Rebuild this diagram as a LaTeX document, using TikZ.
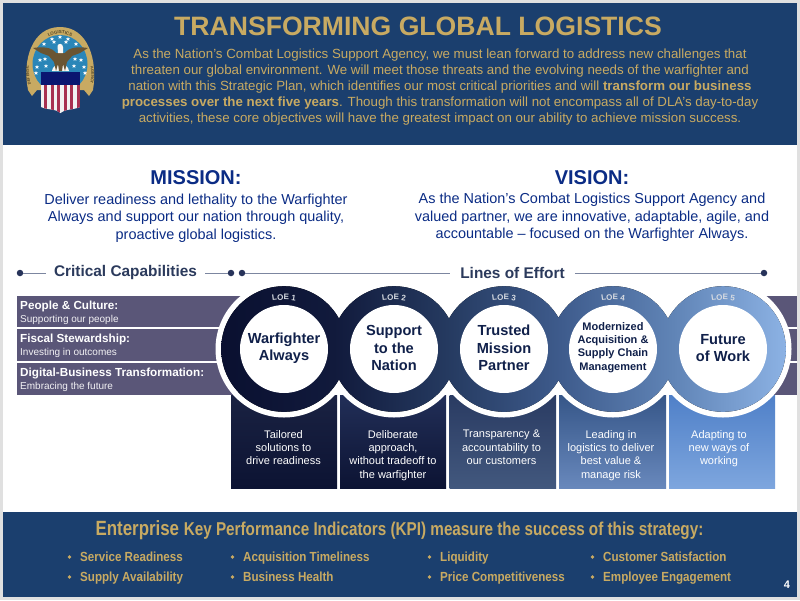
\documentclass[tikz,border=0pt]{standalone}
\usepackage{fontspec}
\setmainfont{Liberation Sans}
\newfontfamily\narrowf[FakeStretch=0.82]{Liberation Sans}
\newfontfamily\kpif[FakeStretch=0.88]{Liberation Sans}
\usetikzlibrary{decorations.text}
\definecolor{navyband}{HTML}{1B3F6E}
\definecolor{gold}{HTML}{C8AA62}
\definecolor{midblue}{HTML}{0B2C85}
\definecolor{headtxt}{HTML}{2B3A5C}
\definecolor{rulec}{HTML}{7C86A0}
\definecolor{dotc}{HTML}{27335A}
\definecolor{barc}{HTML}{5A5678}
\definecolor{innertxt}{HTML}{10204A}
\definecolor{pagegray}{HTML}{E0E0E0}
\definecolor{sA}{HTML}{0A1030}
\definecolor{sB}{HTML}{111A3C}
\definecolor{sC}{HTML}{253A60}
\definecolor{sD}{HTML}{3E5B8C}
\definecolor{sE}{HTML}{6084B6}
\definecolor{sF}{HTML}{8CB2E4}
\definecolor{boxAt}{HTML}{1A2242}
\definecolor{boxAb}{HTML}{0C1333}
\definecolor{boxBt}{HTML}{222F58}
\definecolor{boxBb}{HTML}{0C1333}
\definecolor{boxCt}{HTML}{2A3B62}
\definecolor{boxCb}{HTML}{42587E}
\definecolor{boxDt}{HTML}{365688}
\definecolor{boxDb}{HTML}{6888BC}
\definecolor{boxEt}{HTML}{4F80C8}
\definecolor{boxEb}{HTML}{7EA6DE}
\definecolor{emblue}{HTML}{2A86B8}
\definecolor{embrown}{HTML}{6A5533}
\definecolor{emnavy}{HTML}{0A1670}
\definecolor{emred}{HTML}{A83050}
\pgfdeclarehorizontalshading{ringshade}{100bp}{
 color(0bp)=(sA); color(25bp)=(sA); color(35bp)=(sB); color(45bp)=(sC);
 color(55bp)=(sD); color(65bp)=(sE); color(75bp)=(sF); color(100bp)=(sF)}
\tikzset{
 capbar/.style={fill=barc,draw=none},
 lefttxt/.style={anchor=base west,text=white,inner sep=0pt},
 captitle/.style={lefttxt,font=\fontsize{11.7}{14}\selectfont\bfseries},
 capsub/.style={lefttxt,font=\fontsize{10}{12}\selectfont,text=white!92!barc},
 ringtxt/.style={align=center,text=innertxt,inner sep=0pt,font=\fontsize{14.6}{17.3}\selectfont\bfseries},
 boxtxt/.style={align=center,text=white,inner sep=0pt,font=\fontsize{11}{13.3}\selectfont},
 headt/.style={text=headtxt,inner sep=0pt,font=\fontsize{15.4}{17}\selectfont\bfseries},
 rulel/.style={draw=rulec,line width=0.9pt},
 rdot/.style={circle,fill=dotc,inner sep=0pt,minimum size=6.5pt},
 bluehead/.style={text=midblue,inner sep=0pt,font=\fontsize{20}{24}\selectfont\bfseries},
 bluetxt/.style={align=center,text=midblue,inner sep=0pt,font=\fontsize{14.45}{17.5}\selectfont},
 kpi/.style={anchor=base west,text=gold,inner sep=0pt,font=\kpif\fontsize{13.2}{14}\selectfont\bfseries},
}
\newcommand{\emstar}[2]{\fill[white] (#1,#2-2) -- (#1+.6,#2-.6) -- (#1+2,#2-.5) -- (#1+.9,#2+.3) -- (#1+1.3,#2+1.8) -- (#1,#2+.9) -- (#1-1.3,#2+1.8) -- (#1-.9,#2+.3) -- (#1-2,#2-.5) -- (#1-.6,#2-.6) -- cycle;}
\newcommand{\loelabel}[2]{\path[decorate,decoration={text along path,text align=center,
   text={|\fontsize{8}{9}\selectfont\bfseries\color{white!82!sC}|#2}}]
   (#1-30,308) .. controls (#1-15,297) and (#1+15,297) .. (#1+30,308);}
\begin{document}
\begin{tikzpicture}[x=1pt,y=-1pt]
\useasboundingbox (0,0) rectangle (800,600);
\fill[pagegray] (0,0) rectangle (800,600);
\fill[white] (3,3) rectangle (797,597);
\fill[navyband] (3,3) rectangle (797,145);
\fill[navyband] (3,512) rectangle (797,597);
% emblem
\fill[gold] (28,90) .. controls (22,60) and (32,27) .. (60,27) .. controls (88,27) and (98,60) .. (93,90) -- (89,96) -- (84,90) -- (37,90) -- (32,96) -- cycle;
\fill[emblue] (60,64) ellipse (27.5 and 29);
\path[decorate,decoration={text along path,text align=center,text={|\fontsize{4.4}{5}\selectfont\bfseries\color{black!60!gold}|LOGISTICS}}] (40,44) .. controls (49,30.5) and (71,30.5) .. (80,44);
\path[decorate,decoration={text along path,text align=center,text={|\fontsize{4}{5}\selectfont\bfseries\color{black!60!gold}|DEFENSE}}] (34,94) .. controls (29,82) and (28,70) .. (29,56);
\path[decorate,decoration={text along path,text align=center,text={|\fontsize{4}{5}\selectfont\bfseries\color{black!60!gold}|AGENCY}}] (88,56) .. controls (93,70) and (92,82) .. (87,94);
\foreach \sx/\sy in {60/37,52/39,68/39,44/44,76/44,66/42,54/42,40/60,81/60,45/59,75/59,37/67,84/67,46/66,74/66,36/73,85/73}{\emstar{\sx}{\sy}}
% eagle
\fill[white!92!gold] (52,71) .. controls (53,62) and (68,62) .. (69,71) -- cycle;
\fill[embrown] (33,48) .. controls (42,46.5) and (52,47) .. (56,53) -- (65,53) .. controls (69,47) and (79,46.5) .. (88,48) -- (80,53) -- (72,56) -- (67,62) -- (65,71) -- (63,64) -- (62,71) -- (59,71) -- (58,64) -- (56,71) -- (54,62) -- (49,56) -- (41,53) -- cycle;
\fill[white!92!gold] (57.5,46) .. controls (58,43) and (63,43) .. (63,47) -- (63,53) -- (58,53) -- cycle;
% shield
\begin{scope}
\clip (41,72) -- (80,72) -- (80,107) .. controls (74,110) and (64,109) .. (60.5,113) .. controls (57,109) and (47,110) .. (41,107) -- cycle;
\fill[white!90!gray] (41,72) rectangle (80,114);
\fill[emnavy] (41,72) rectangle (80,85);
\foreach \sx in {44,50.5,57,63.5,70,76.5}{\fill[emred] (\sx,85) rectangle (\sx+3.4,114);}
\end{scope}
% title
\node[text=gold,inner sep=0pt,font=\fontsize{26.6}{30}\selectfont\bfseries] (title) at (418,26.5) {TRANSFORMING GLOBAL LOGISTICS};
\node[text=gold,align=center,inner sep=0pt,font=\fontsize{13.3}{16.2}\selectfont] (intro) at (440,87) {As the Nation’s Combat Logistics Support Agency, we must lean forward to address new challenges that\\ threaten our global environment. We will meet those threats and the evolving needs of the warfighter and\\ nation with this Strategic Plan, which identifies our most critical priorities and will \textbf{transform our business}\\ \textbf{processes over the next five years}. Though this transformation will not encompass all of DLA’s day-to-day\\ activities, these core objectives will have the greatest impact on our ability to achieve mission success.};
% mission / vision
\node[bluehead] (mh) at (196,178) {MISSION:};
\node[bluetxt] (mt) at (196,218) {Deliver readiness and lethality to the Warfighter\\ Always and support our nation through quality,\\ proactive global logistics.};
\node[bluehead] (vh) at (592,178) {VISION:};
\node[bluetxt] (vt) at (592,217.5) {As the Nation’s Combat Logistics Support Agency and\\ valued partner, we are innovative, adaptable, agile, and\\ accountable – focused on the Warfighter Always.};
% header rules
\node[headt] (cc) at (125.5,273) {Critical Capabilities};
\node[headt] (le) at (512.5,273) {Lines of Effort};
\node[rdot] (d1) at (20,273) {};
\node[rdot] (d2) at (231,273) {};
\node[rdot] (d3) at (242,273) {};
\node[rdot] (d4) at (764,273) {};
\draw[rulel] (d1) -- ([xshift=-8pt]cc.west);
\draw[rulel] ([xshift=8pt]cc.east) -- (d2);
\draw[rulel] (d3) -- ([xshift=-10pt]le.west);
\draw[rulel] ([xshift=10pt]le.east) -- (d4);
% bars
\fill[capbar] (17,296) rectangle (290,327);
\fill[capbar] (17,329) rectangle (290,361);
\fill[capbar] (17,363) rectangle (290,395);
\fill[capbar] (700,296) rectangle (797,327);
\fill[capbar] (700,329) rectangle (797,361);
\fill[capbar] (700,363) rectangle (797,395);
\node[captitle] (c1) at (20,309.5) {People \& Culture:};
\node[capsub] (c1s) at (20,322) {Supporting our people};
\node[captitle] (c2) at (20,342.5) {Fiscal Stewardship:};
\node[capsub] (c2s) at (20,355.5) {Investing in outcomes};
\node[captitle] (c3) at (20,376.5) {Digital-Business Transformation:};
\node[capsub] (c3s) at (20,389) {Embracing the future};
% lower boxes
\shade[bottom color=boxAb,top color=boxAt] (231,395) rectangle (337,488);
\shade[shading angle=-25,bottom color=boxBb,top color=boxBt] (340,395) rectangle (446,488);
\shade[shading angle=25,bottom color=boxCb,top color=boxCt] (449.5,395) rectangle (556,488);
\shade[bottom color=boxDb,top color=boxDt] (559,395) rectangle (666,488);
\shade[bottom color=boxEb,top color=boxEt] (669,395) rectangle (775,488);
% halo and rings
\foreach \cx in {284,394,504,613,723}{\fill[white] (\cx,349) circle (68.5);}
\begin{scope}
\clip (284,349) circle (62.8) (394,349) circle (62.8) (504,349) circle (62.8) (613,349) circle (62.8) (723,349) circle (62.8);
\fill[shading=ringshade] (221,280) rectangle (786,420);
\end{scope}
\foreach \cx in {284,394,504,613,723}{\fill[white] (\cx,349) circle (44);}
\loelabel{284}{LOE 1}
\loelabel{394}{LOE 2}
\loelabel{504}{LOE 3}
\loelabel{613}{LOE 4}
\loelabel{723}{LOE 5}
\node[ringtxt] (r1) at (284,348) {Warfighter\\ Always};
\node[ringtxt] (r2) at (394,348) {Support\\ to the\\ Nation};
\node[ringtxt] (r3) at (504,348) {Trusted\\ Mission\\ Partner};
\node[ringtxt,font=\fontsize{11}{13.3}\selectfont\bfseries] (r4) at (613,347.5) {Modernized\\ Acquisition \&\\ Supply Chain\\ Management};
\node[ringtxt] (r5) at (723,348) {Future\\ of Work};
\node[boxtxt,anchor=north] (b1) at (283.5,430) {Tailored\\ solutions to\\ drive readiness};
\node[boxtxt,anchor=north] (b2) at (393,430) {Deliberate\\ approach,\\ without tradeoff to\\ the warfighter};
\node[boxtxt,anchor=north] (b3) at (501.5,430) {Transparency \&\\ accountability to\\ our customers};
\node[boxtxt,anchor=north] (b4) at (611,430) {Leading in\\ logistics to deliver\\ best value \&\\ manage risk};
\node[boxtxt,anchor=north] (b5) at (719,430) {Adapting to\\ new ways of\\ working};
% KPI
\node[text=gold,inner sep=0pt] (kt) at (399.5,530) {\narrowf\bfseries\fontsize{20.6}{22}\selectfont Enterprise \fontsize{18.6}{22}\selectfont Key Performance Indicators (KPI) measure the success of this strategy:};
\foreach \kx/\ky/\kn/\kl in {80/561.5/k1/Service Readiness,80/581.5/k2/Supply Availability,243/561.5/k3/Acquisition Timeliness,243/581.5/k4/Business Health,440/561.5/k5/Liquidity,440/581.5/k6/Price Competitiveness,603/561.5/k7/Customer Satisfaction,603/581.5/k8/Employee Engagement}{
 \node[kpi] (\kn) at (\kx,\ky) {\kl};
 \fill[gold] (\kx-10.5,\ky-4.5) circle (1.8);
}
\node[text=white,inner sep=0pt,font=\fontsize{11}{12}\selectfont\bfseries] (pg) at (787,584.5) {4};
\end{tikzpicture}
\end{document}
